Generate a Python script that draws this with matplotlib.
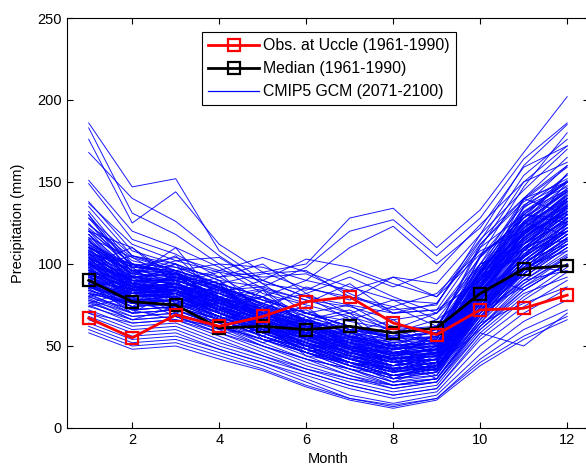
import matplotlib
matplotlib.use("Agg")
import matplotlib.pyplot as plt
from matplotlib.lines import Line2D

plt.rcParams['font.family'] = ['Liberation Sans', 'DejaVu Sans']

months = list(range(1, 13))
obs_uccle = [67, 55, 69, 62, 68, 77, 80, 64, 57, 72, 73, 81]
median_obs = [90, 77, 75, 61, 62, 60, 62, 58, 61, 82, 97, 99]

gcm_runs = [
    [186, 147, 152, 108, 90, 80, 75, 70, 72, 110, 150, 172],
    [183, 131, 118, 100, 85, 78, 70, 62, 60, 95, 135, 160],
    [176, 125, 144, 112, 95, 85, 80, 72, 75, 118, 160, 185],
    [168, 140, 126, 105, 88, 70, 62, 55, 58, 100, 140, 165],
    [151, 120, 110, 98, 82, 75, 68, 60, 62, 105, 147, 180],
    [149, 115, 106, 92, 95, 100, 128, 134, 110, 133, 168, 202],
    [138, 108, 100, 90, 86, 98, 120, 127, 105, 128, 164, 186],
    [135, 105, 98, 88, 80, 90, 110, 123, 100, 122, 159, 172],
    [137, 112, 102, 95, 90, 103, 98, 88, 80, 115, 140, 160],
    [132, 100, 95, 85, 78, 70, 65, 60, 58, 98, 130, 150],
    [130, 98, 96, 88, 80, 68, 60, 55, 55, 95, 125, 145],
    [128, 105, 100, 85, 75, 65, 58, 50, 52, 90, 120, 140],
    [125, 95, 90, 82, 72, 62, 55, 48, 50, 88, 118, 138],
    [122, 100, 92, 84, 74, 66, 52, 45, 48, 85, 115, 135],
    [120, 92, 88, 80, 70, 60, 50, 42, 46, 82, 112, 132],
    [118, 96, 95, 78, 68, 58, 48, 40, 44, 80, 110, 130],
    [116, 90, 90, 82, 72, 64, 56, 50, 52, 92, 122, 142],
    [115, 88, 86, 76, 66, 56, 46, 38, 42, 78, 108, 128],
    [114, 94, 92, 80, 70, 60, 54, 48, 50, 86, 116, 136],
    [112, 86, 84, 74, 64, 54, 44, 36, 40, 76, 105, 125],
    [111, 92, 94, 84, 76, 68, 60, 55, 58, 96, 124, 140],
    [110, 84, 82, 72, 62, 52, 42, 34, 38, 74, 102, 122],
    [109, 90, 88, 78, 68, 58, 50, 44, 48, 84, 112, 132],
    [108, 88, 92, 80, 66, 50, 40, 32, 36, 70, 100, 120],
    [107, 82, 80, 70, 60, 50, 40, 32, 38, 72, 100, 118],
    [106, 86, 86, 76, 66, 56, 48, 42, 46, 82, 110, 130],
    [105, 90, 90, 82, 74, 62, 56, 50, 52, 90, 118, 138],
    [104, 80, 82, 72, 62, 52, 44, 38, 42, 78, 106, 126],
    [103, 86, 84, 74, 64, 56, 52, 46, 48, 86, 114, 134],
    [102, 84, 88, 78, 68, 60, 50, 42, 44, 80, 108, 128],
    [101, 78, 78, 68, 58, 48, 38, 30, 34, 68, 96, 116],
    [100, 82, 84, 74, 64, 54, 44, 36, 40, 76, 104, 124],
    [99, 86, 88, 76, 66, 58, 52, 48, 50, 88, 116, 132],
    [98, 80, 82, 72, 62, 52, 42, 34, 38, 74, 102, 122],
    [97, 84, 86, 74, 62, 50, 40, 32, 36, 72, 100, 118],
    [96, 78, 80, 70, 60, 50, 40, 32, 36, 70, 98, 116],
    [95, 82, 84, 72, 64, 56, 50, 46, 48, 84, 110, 128],
    [94, 80, 82, 70, 60, 52, 46, 40, 44, 78, 104, 122],
    [93, 76, 78, 68, 58, 48, 38, 30, 34, 66, 94, 112],
    [92, 80, 84, 74, 66, 58, 52, 48, 50, 86, 112, 130],
    [91, 78, 80, 70, 60, 50, 42, 36, 40, 74, 100, 118],
    [90, 76, 78, 68, 58, 48, 40, 34, 38, 72, 98, 115],
    [89, 80, 82, 70, 62, 54, 46, 42, 44, 80, 106, 124],
    [88, 74, 76, 66, 56, 46, 36, 28, 32, 66, 92, 110],
    [87, 78, 80, 70, 60, 52, 44, 38, 42, 76, 102, 120],
    [86, 76, 78, 68, 58, 50, 42, 36, 40, 74, 98, 116],
    [85, 72, 74, 64, 54, 44, 34, 26, 30, 64, 90, 108],
    [84, 76, 78, 68, 60, 52, 46, 42, 46, 80, 104, 122],
    [83, 74, 76, 66, 56, 48, 40, 34, 38, 72, 96, 114],
    [82, 70, 72, 62, 52, 42, 32, 24, 28, 62, 88, 105],
    [81, 72, 74, 64, 56, 48, 42, 38, 42, 76, 100, 118],
    [80, 70, 72, 62, 54, 46, 38, 32, 36, 70, 94, 112],
    [79, 68, 70, 60, 50, 40, 32, 26, 30, 62, 86, 104],
    [78, 70, 72, 62, 54, 46, 40, 36, 40, 74, 96, 114],
    [77, 66, 68, 58, 48, 38, 30, 24, 28, 60, 84, 100],
    [76, 68, 70, 62, 54, 46, 40, 36, 40, 72, 94, 110],
    [75, 64, 66, 56, 46, 36, 28, 22, 26, 58, 80, 98],
    [74, 66, 68, 58, 50, 42, 36, 32, 36, 68, 90, 106],
    [72, 62, 64, 54, 44, 34, 26, 20, 24, 56, 78, 95],
    [70, 60, 62, 52, 44, 36, 30, 26, 30, 62, 84, 100],
    [68, 58, 60, 50, 42, 34, 26, 20, 24, 54, 74, 90],
    [66, 56, 58, 48, 40, 32, 24, 18, 22, 50, 70, 85],
    [64, 54, 56, 48, 40, 30, 20, 15, 20, 45, 65, 78],
    [62, 52, 54, 46, 38, 28, 18, 13, 18, 42, 60, 72],
    [60, 50, 52, 44, 36, 26, 18, 14, 18, 40, 56, 68],
    [58, 48, 50, 42, 35, 25, 17, 12, 17, 38, 54, 66],
    [120, 110, 88, 95, 70, 72, 60, 58, 66, 100, 108, 140],
    [108, 95, 105, 80, 85, 65, 70, 50, 60, 110, 130, 125],
    [100, 110, 92, 85, 68, 74, 55, 62, 48, 95, 118, 150],
    [95, 88, 100, 90, 72, 60, 68, 45, 55, 88, 140, 130],
    [130, 92, 110, 78, 84, 62, 58, 66, 50, 105, 128, 155],
    [90, 100, 85, 92, 78, 70, 75, 60, 70, 92, 105, 120],
    [115, 80, 95, 70, 60, 66, 48, 55, 45, 86, 125, 118],
    [85, 92, 78, 82, 70, 58, 62, 40, 50, 100, 112, 135],
    [105, 85, 75, 88, 62, 55, 45, 50, 36, 80, 96, 126],
    [98, 105, 96, 76, 80, 64, 50, 42, 58, 94, 132, 145],
    [88, 70, 85, 60, 66, 50, 56, 35, 42, 70, 100, 95],
    [112, 98, 80, 86, 70, 62, 52, 58, 44, 90, 115, 140],
    [80, 88, 72, 78, 58, 62, 44, 38, 48, 84, 92, 110],
    [102, 76, 90, 66, 74, 48, 54, 30, 40, 76, 110, 120],
    [92, 82, 94, 74, 56, 68, 50, 46, 34, 78, 120, 128],
    [76, 84, 70, 80, 62, 46, 52, 34, 44, 68, 88, 104],
    [110, 96, 86, 72, 80, 56, 46, 52, 38, 96, 104, 136],
    [84, 74, 88, 64, 52, 60, 38, 42, 30, 66, 98, 108],
    [118, 88, 82, 90, 64, 70, 62, 48, 56, 104, 136, 150],
    [96, 90, 76, 84, 72, 54, 60, 36, 46, 82, 94, 124],
    [74, 80, 68, 60, 64, 44, 40, 28, 38, 60, 82, 92],
    [106, 94, 100, 70, 58, 64, 42, 44, 32, 74, 108, 115],
    [86, 78, 74, 76, 54, 50, 48, 30, 40, 72, 86, 100],
    [124, 102, 96, 86, 76, 66, 58, 54, 60, 112, 140, 150],
    [100, 92, 90, 82, 90, 80, 66, 74, 62, 98, 118, 132],
    [94, 86, 80, 68, 84, 76, 88, 70, 72, 90, 110, 120],
    [82, 76, 72, 64, 76, 82, 70, 78, 66, 84, 102, 112],
    [110, 100, 94, 80, 72, 86, 78, 92, 80, 106, 125, 138],
    [70, 64, 66, 58, 60, 66, 72, 58, 52, 70, 90, 96],
    [90, 72, 66, 62, 50, 42, 36, 26, 28, 58, 50, 70],
    [104, 88, 84, 76, 70, 66, 60, 56, 62, 94, 84, 100],
    [78, 66, 74, 66, 56, 48, 44, 40, 36, 64, 76, 86],
    [116, 104, 96, 88, 66, 54, 48, 40, 46, 86, 130, 128],
    [97, 83, 79, 71, 61, 53, 47, 43, 41, 81, 121, 143],
    [89, 85, 81, 73, 67, 57, 51, 45, 49, 91, 125, 155],
    [103, 93, 87, 79, 69, 61, 49, 41, 39, 85, 135, 147],
    [93, 87, 91, 79, 71, 59, 53, 47, 43, 79, 119, 137],
    [107, 89, 83, 75, 65, 57, 45, 37, 35, 77, 117, 133],
    [113, 99, 93, 83, 73, 63, 57, 49, 51, 93, 131, 151],
    [99, 91, 89, 77, 69, 61, 55, 51, 47, 87, 123, 141],
    [87, 79, 77, 67, 59, 51, 43, 35, 37, 73, 109, 127],
    [121, 97, 91, 87, 75, 65, 59, 53, 55, 97, 139, 159],
    [93, 85, 83, 73, 63, 55, 49, 45, 47, 83, 113, 131],
    [101, 87, 85, 77, 67, 57, 49, 43, 45, 85, 119, 139],
    [128, 98, 104, 96, 104, 95, 86, 78, 76, 112, 138, 152],
    [118, 92, 96, 100, 98, 90, 84, 92, 88, 118, 145, 170],
    [106, 100, 98, 92, 100, 82, 92, 80, 70, 104, 128, 144],
    [96, 84, 92, 88, 94, 96, 80, 74, 82, 108, 120, 135],
    [112, 94, 102, 104, 88, 84, 96, 86, 96, 124, 150, 162],
    [88, 82, 86, 84, 86, 78, 74, 66, 70, 100, 112, 126],
    [124, 104, 90, 96, 92, 94, 82, 70, 76, 114, 154, 176],
    [102, 90, 86, 80, 72, 64, 56, 48, 52, 92, 126, 144],
    [94, 82, 80, 72, 64, 56, 48, 40, 42, 80, 114, 134],
    [108, 92, 88, 80, 72, 60, 52, 44, 48, 88, 124, 146],
    [98, 86, 82, 74, 66, 58, 50, 44, 48, 86, 118, 136],
    [90, 80, 80, 72, 64, 56, 48, 42, 44, 82, 112, 130],
    [104, 88, 84, 76, 68, 60, 54, 46, 50, 90, 122, 140],
    [92, 84, 82, 74, 66, 56, 46, 38, 42, 78, 108, 126],
    [110, 94, 90, 82, 72, 62, 54, 48, 52, 94, 128, 148],
    [86, 78, 78, 70, 62, 54, 46, 40, 42, 76, 104, 122],
    [100, 86, 84, 76, 66, 56, 46, 40, 44, 82, 116, 134],
    [96, 88, 86, 78, 70, 62, 54, 48, 50, 88, 118, 138],
    [84, 76, 76, 68, 60, 52, 44, 38, 40, 74, 100, 118],
    [106, 90, 86, 78, 70, 62, 56, 50, 54, 92, 120, 142],
    [114, 96, 92, 84, 74, 64, 56, 46, 50, 90, 130, 150],
    [92, 82, 84, 76, 68, 58, 48, 42, 46, 84, 110, 128],
    [100, 90, 88, 78, 68, 58, 50, 42, 44, 84, 114, 132],
    [88, 80, 80, 72, 62, 52, 42, 36, 38, 72, 100, 118],
    [104, 92, 90, 80, 70, 60, 50, 44, 46, 86, 120, 138],
    [80, 72, 74, 66, 58, 50, 42, 36, 38, 70, 96, 112],
    [96, 84, 84, 76, 68, 60, 54, 50, 52, 90, 116, 134],
    [120, 100, 94, 86, 76, 66, 58, 50, 54, 96, 134, 154],
    [90, 84, 86, 78, 70, 62, 56, 52, 56, 94, 120, 136],
    [98, 80, 80, 70, 60, 48, 38, 30, 32, 70, 106, 124],
    [86, 74, 76, 66, 56, 46, 36, 28, 30, 64, 96, 112],
    [102, 88, 86, 78, 70, 62, 52, 44, 46, 86, 122, 142],
    [94, 86, 88, 80, 72, 64, 56, 50, 52, 92, 124, 144],
    [110, 98, 96, 88, 80, 70, 62, 56, 58, 100, 132, 150],
    [82, 76, 78, 70, 62, 54, 46, 40, 42, 76, 102, 120],
    [100, 84, 80, 72, 62, 52, 42, 34, 36, 74, 108, 128],
    [108, 96, 94, 86, 76, 66, 58, 52, 54, 96, 128, 146],
    [92, 78, 78, 68, 58, 48, 40, 32, 34, 70, 100, 120],
    [98, 92, 94, 86, 78, 70, 62, 54, 56, 96, 126, 144],
    [88, 76, 74, 66, 56, 46, 38, 32, 34, 68, 96, 114],
]

x_ticks = [2, 4, 6, 8, 10, 12]
y_ticks = [0, 50, 100, 150, 200, 250]

fig = plt.figure(figsize=(5.86, 4.70), dpi=100)
ax = fig.add_axes([0.1143, 0.0894, 0.8907, 0.8723])

for run in gcm_runs:
    ax.plot(months, run, color='#0000ff', lw=0.7, alpha=0.9)

med_handle, = ax.plot(months, median_obs, color='black', lw=2, marker='s',
                      markersize=8, markerfacecolor='none', markeredgewidth=1.6)
obs_handle, = ax.plot(months, obs_uccle, color='red', lw=2, marker='s',
                      markersize=8, markerfacecolor='none', markeredgewidth=1.6)

ax.set_xlim(0.5, 12.5)
ax.set_ylim(0, 250)
ax.set_xticks(x_ticks)
ax.set_yticks(y_ticks)
ax.tick_params(direction='in', top=True, right=True, labelsize=10.5, length=4, width=0.8)
for s in ax.spines.values():
    s.set_linewidth(0.8)
ax.set_xlabel('Month', fontsize=10.5, labelpad=4)
ax.set_ylabel('Precipitation (mm)', fontsize=10.5, labelpad=9)

gcm_leg = Line2D([], [], color='#0000ff', lw=0.9)
leg = ax.legend([obs_handle, med_handle, gcm_leg],
                ['Obs. at Uccle (1961-1990)', 'Median (1961-1990)', 'CMIP5 GCM (2071-2100)'],
                loc='upper left', bbox_to_anchor=(0.259, 0.966), fontsize=11.4,
                fancybox=False, framealpha=1, edgecolor='black', handlelength=3.2,
                borderpad=0.4, labelspacing=0.5, handletextpad=0.25, borderaxespad=0)
leg.get_frame().set_linewidth(0.8)

fig.savefig('out.png', dpi=100)
